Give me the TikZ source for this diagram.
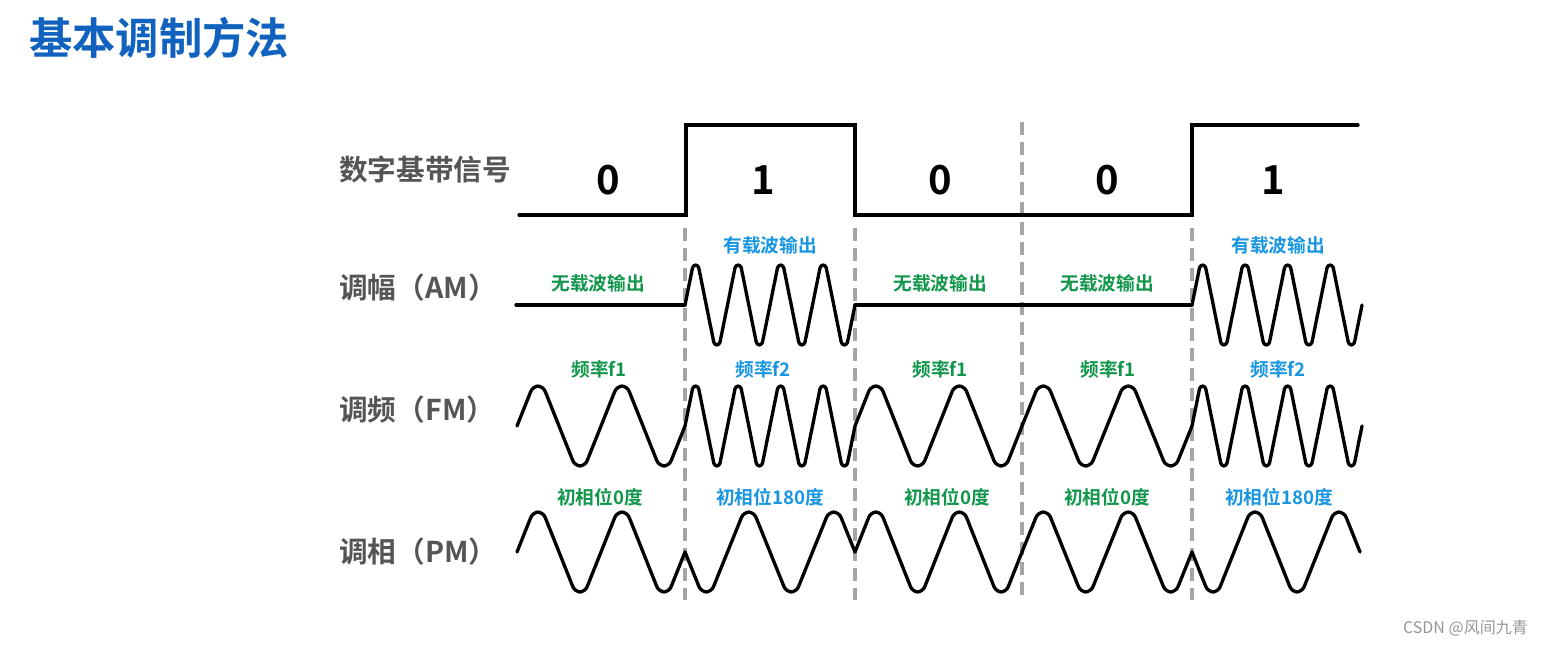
\documentclass[tikz,border=0pt]{standalone}
\usepackage{fontspec}
\setmainfont{Noto Sans CJK SC}[BoldFont={Noto Sans CJK SC Bold}]
\definecolor{titleblue}{RGB}{16,98,190}
\definecolor{lblgray}{RGB}{85,85,85}
\definecolor{grn}{RGB}{18,150,75}
\definecolor{blu}{RGB}{25,150,225}
\definecolor{dashgray}{RGB}{165,165,165}
\definecolor{wmgray}{RGB}{150,150,150}
\newcommand{\wavepath}[6]{% x0, yc, period, cycles, sign(1 up first,-1 down first), amplitude
  \pgfmathsetmacro\wrc{0.05*#3}%
  \draw[wave, rounded corners=\wrc pt] (#1,#2) \foreach \k in {1,...,#4}{
    -- ++({0.19*#3},{0-(#5)*#6}) -- ++({0.12*#3},0) -- ++({0.38*#3},{2*(#5)*#6})
    -- ++({0.12*#3},0) -- ++({0.19*#3},{0-(#5)*#6}) };
}
\begin{document}
\begin{tikzpicture}[x=0.75pt,y=-0.75pt,
  wave/.style={line width=2.5pt, line join=round, line cap=round},
  sq/.style={line width=2.5pt, line join=miter, line cap=round},
  guide/.style={dashgray, line width=2.6pt, dash pattern=on 10pt off 5pt},
  rowlbl/.style={anchor=west, inner sep=0pt, text=lblgray, font=\fontsize{21.5}{24}\selectfont\bfseries},
  bitlbl/.style={inner sep=0pt, text=black, font=\fontsize{30}{34}\selectfont\bfseries},
  nolbl/.style={inner sep=0pt, text=grn, font=\fontsize{14}{16}\selectfont\bfseries},
  yeslbl/.style={inner sep=0pt, text=blu, font=\fontsize{14}{16}\selectfont\bfseries}]
\useasboundingbox (0,0) rectangle (1542,646);
\fill[white] (0,0) rectangle (1542,646);
% title
\node[anchor=west, inner sep=0pt, text=titleblue, font=\fontsize{32.5}{36}\selectfont\bfseries] (title) at (29,38) {基本调制方法};
% watermark
\node[anchor=east, inner sep=0pt, text=wmgray, font=\fontsize{12}{14}\selectfont] (wm) at (1528,628) {CSDN @风间九青};
% row labels
\node[rowlbl] (lbb) at (339,170) {数字基带信号};
\node[rowlbl] (lam) at (339,288) {调幅（AM）};
\node[rowlbl] (lfm) at (339,410) {调频（FM）};
\node[rowlbl] (lpm) at (339,552) {调相（PM）};
% guides
\draw[guide] (685,228) -- (685,600);
\draw[guide] (855,228) -- (855,600);
\draw[guide] (1022,122) -- (1022,600);
\draw[guide] (1192,228) -- (1192,600);
% baseband
\draw[sq] (519,215) -- (686,215) -- (686,125) -- (855,125) -- (855,215) -- (1192,215) -- (1192,125) -- (1358,125);
\node[bitlbl] (b1) at (608,180) {0};
\node[bitlbl] (b2) at (763,180) {1};
\node[bitlbl] (b3) at (940,180) {0};
\node[bitlbl] (b4) at (1107,180) {0};
\node[bitlbl] (b5) at (1273,180) {1};
% AM
\draw[wave] (516,305) -- (685,305);
\wavepath{685}{305}{42.5}{4}{1}{40}
\draw[wave] (855,305) -- (1192,305);
\wavepath{1192}{305}{42.5}{4}{1}{40}
\node[nolbl] (a1) at (598,283) {无载波输出};
\node[yeslbl] (a2) at (770,245) {有载波输出};
\node[nolbl] (a3) at (940,283) {无载波输出};
\node[nolbl] (a4) at (1107,283) {无载波输出};
\node[yeslbl] (a5) at (1278,245) {有载波输出};
% FM
\wavepath{517}{426}{84}{2}{1}{40}
\wavepath{685}{426}{42.5}{4}{1}{40}
\wavepath{855}{426}{83.5}{2}{1}{40}
\wavepath{1022}{426}{85}{2}{1}{40}
\wavepath{1192}{426}{42.5}{4}{1}{40}
\node[nolbl] (f1) at (599,369) {频率f1};
\node[yeslbl] (f2) at (763,369) {频率f2};
\node[nolbl] (f3) at (940,369) {频率f1};
\node[nolbl] (f4) at (1108,369) {频率f1};
\node[yeslbl] (f5) at (1278,369) {频率f2};
% PM
\wavepath{517}{552}{84}{2}{1}{40}
\wavepath{685}{552}{85}{2}{-1}{40}
\wavepath{855}{552}{83.5}{2}{1}{40}
\wavepath{1022}{552}{85}{2}{1}{40}
\wavepath{1192}{552}{84}{2}{-1}{40}
\node[nolbl] (p1) at (600,497) {初相位0度};
\node[yeslbl] (p2) at (770,497) {初相位180度};
\node[nolbl] (p3) at (947,497) {初相位0度};
\node[nolbl] (p4) at (1107,497) {初相位0度};
\node[yeslbl] (p5) at (1279,497) {初相位180度};
\end{tikzpicture}
\end{document}
